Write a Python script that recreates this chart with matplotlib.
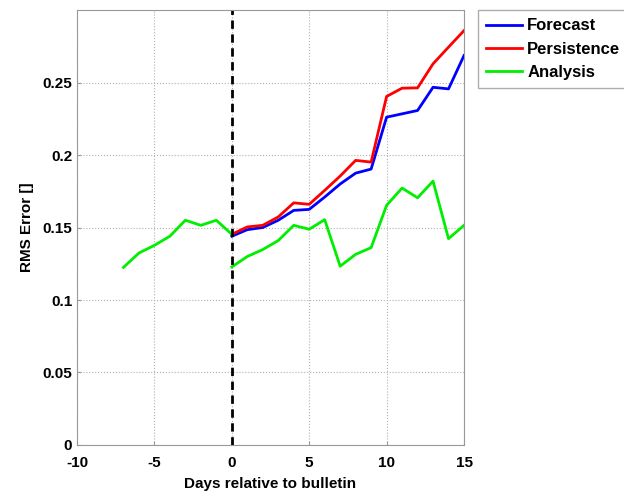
import matplotlib
matplotlib.use("Agg")
import matplotlib.pyplot as plt

plt.rcParams['font.family'] = ['Liberation Sans Narrow', 'Liberation Sans', 'DejaVu Sans']
plt.rcParams['font.weight'] = 'bold'
plt.rcParams['axes.labelweight'] = 'bold'
plt.rcParams['axes.unicode_minus'] = False

# Ошибки прогноза по дням относительно бюллетеня
days_before = [-7, -6, -5, -4, -3, -2, -1, 0]
analysis_before = [0.1225, 0.1324, 0.1377, 0.1440, 0.1550, 0.1515, 0.1550, 0.1453]

days_after = list(range(0, 16))
forecast = [0.1440, 0.1485, 0.1500, 0.1550, 0.1618, 0.1625, 0.1710, 0.1800,
            0.1875, 0.1903, 0.2261, 0.2284, 0.2307, 0.2467, 0.2456, 0.2686]
persistence = [0.1453, 0.1504, 0.1515, 0.1573, 0.1670, 0.1660, 0.1756, 0.1855,
               0.1963, 0.1951, 0.2404, 0.2461, 0.2463, 0.2629, 0.2744, 0.2858]
analysis_after = [0.1228, 0.1300, 0.1348, 0.1410, 0.1515, 0.1488, 0.1554, 0.1233,
                  0.1315, 0.1361, 0.1653, 0.1772, 0.1705, 0.1820, 0.1423, 0.1515]

fig = plt.figure(figsize=(6.24, 4.91), dpi=100)
ax = fig.add_axes([0.1234, 0.0937, 0.6202, 0.8859])

ax.plot(days_after, forecast, color='#0000ff', lw=2, label='Forecast')
ax.plot(days_after, persistence, color='#ff0000', lw=2, label='Persistence')
ax.plot(days_before, analysis_before, color='#00ee00', lw=2, label='Analysis')
ax.plot(days_after, analysis_after, color='#00ee00', lw=2)
ax.axvline(0, color='black', ls='--', lw=2, dashes=(3, 2))

ax.set_xlim(-10, 15)
ax.set_ylim(0, 0.3)
ax.set_xticks([-10, -5, 0, 5, 10, 15])
ax.set_yticks([0, 0.05, 0.1, 0.15, 0.2, 0.25])
ax.set_yticklabels(['0', '0.05', '0.1', '0.15', '0.2', '0.25'])
ax.grid(True, color='#b0b0b0', ls=':', lw=0.8)
ax.tick_params(labelsize=11, direction='in', color='#999999', length=3)
ax.tick_params(axis='x', pad=8)
for s in ax.spines.values():
    s.set_color('#999999')

ax.set_xlabel('Days relative to bulletin', fontsize=11, labelpad=5)
ax.set_ylabel('RMS Error []', fontsize=11, labelpad=6)

leg = ax.legend(loc='upper left', bbox_to_anchor=(1.036, 1.0), fontsize=12,
                frameon=True, fancybox=False, edgecolor='#999999',
                handlelength=2.15, handletextpad=0.3, borderpad=0.5,
                labelspacing=0.5, borderaxespad=0)
leg.get_frame().set_linewidth(1)

fig.savefig('out.png', dpi=100)
